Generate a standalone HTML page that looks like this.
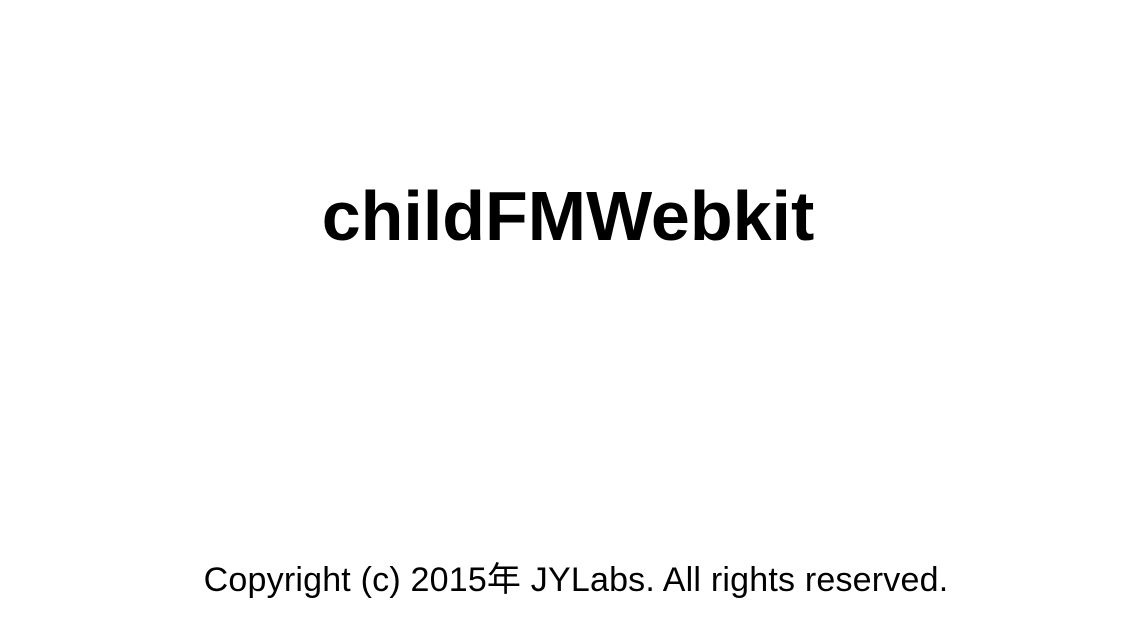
<!DOCTYPE html>
<html><head><meta charset="utf-8"><style>
html,body{margin:0;padding:0;background:#fff;}
body{width:1136px;height:640px;position:relative;overflow:hidden;font-family:"Liberation Sans","Noto Sans CJK JP",sans-serif;color:#000;}
.t{position:absolute;left:0;width:1136px;text-align:center;top:176px;font-size:70px;font-weight:bold;line-height:80px;letter-spacing:0px;}
.c{position:absolute;left:0;width:1152px;text-align:center;top:560px;font-size:34px;line-height:40px;letter-spacing:0.2px;}
</style></head><body>
<div class="t">childFMWebkit</div>
<div class="c">Copyright (c) 2015年 JYLabs. All rights reserved.</div>
</body></html>
